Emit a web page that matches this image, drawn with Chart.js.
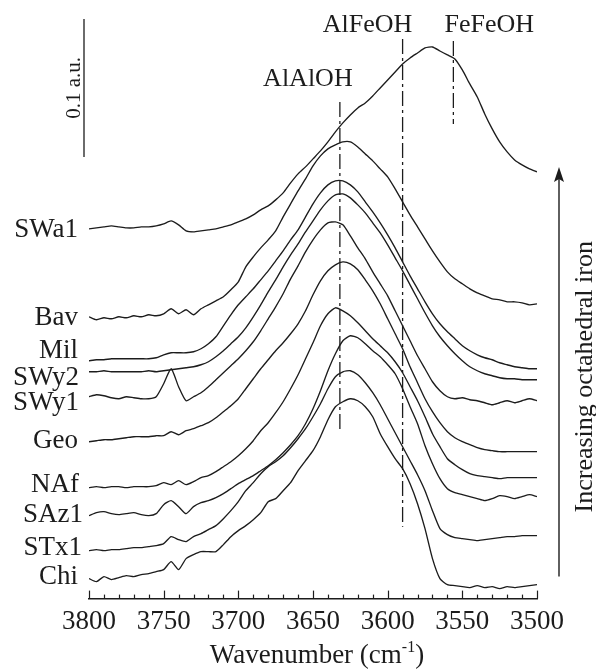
<!DOCTYPE html>
<html><head><meta charset="utf-8">
<script src="https://cdn.jsdelivr.net/npm/chart.js@4.4.1/dist/chart.umd.min.js"></script>
<style>html,body{margin:0;padding:0;background:#fff;}canvas{display:block;}</style>
</head><body>
<canvas id="c" width="596" height="672"></canvas>
<script>
// ---------- DATA (y = stacked absorbance, arbitrary offset units, 138 units = 0.1 a.u.) ----------
const wavenumbers = [3800,3795,3790,3785,3780,3775,3770,3765,3760,3755,3750,3745,3740,3735,3730,3725,3720,3715,3710,3705,3700,3695,3690,3685,3680,3675,3670,3665,3660,3655,3650,3645,3640,3635,3630,3625,3620,3615,3610,3605,3600,3595,3590,3585,3580,3575,3570,3565,3560,3555,3550,3545,3540,3535,3530,3525,3520,3515,3510,3505,3500];
const sampleNames = ['SWa1','Bav','Mil','SWy2','SWy1','Geo','NAf','SAz1','STx1','Chi'];
const SWa1 = [370,371,372,373,372,371,371,372,372,373,375,378,374,368,367,368,369,370,372,374,377,380,384,389,393,399,406,416,425,432,440,448,457,467,476,484,491,496,503,511,519,527,535,541,546,551,552,548,544,540,529,515,502,485,470,457,447,439,434,430,427];
const Bav  = [282,279,281,280,282,281,283,282,284,283,285,290,285,289,284,290,294,298,302,309,317,332,342,351,359,368,382,395,408,420,433,443,450,454,457,457,452,445,438,430,422,410,397,384,372,360,348,337,327,320,315,310,306,303,300,299,297,297,296,294,295];
const Mil  = [238,239,239,240,240,240,240,240,240,241,244,246,246,246,247,250,255,262,273,284,294,302,310,319,328,338,348,359,369,382,395,406,414,418,418,414,407,397,387,376,364,351,337,323,310,297,285,275,267,260,253,248,244,241,239,236,234,232,231,230,230];
const SWy2 = [227,227,228,227,227,227,227,227,228,227,228,229,230,231,232,234,237,242,248,255,262,271,282,294,307,319,332,344,355,367,378,389,398,404,405,401,394,386,376,366,354,341,328,314,300,286,273,262,253,245,238,232,228,225,223,221,220,220,219,219,219];
const SWy1 = [202,204,203,201,200,202,201,200,200,202,215,230,212,198,202,206,212,219,226,233,240,248,257,268,280,292,305,320,333,347,359,369,376,377,374,363,351,340,327,315,303,288,273,258,243,230,217,208,202,200,201,199,198,196,194,196,198,196,198,200,198];
const Geo  = [157,158,159,159,160,161,162,162,162,163,163,167,164,168,170,173,176,181,187,193,200,210,220,230,239,248,256,265,275,288,304,318,328,334,337,335,329,319,308,295,280,265,250,232,216,200,187,176,167,161,157,154,151,149,148,147,147,147,147,147,147];
const NAf  = [111,112,111,112,112,111,112,112,112,113,116,114,118,114,117,121,123,127,132,137,143,150,158,168,176,186,197,210,224,240,256,273,285,291,288,283,276,268,260,253,246,237,226,212,198,182,165,152,140,134,129,125,123,122,121,120,121,121,121,121,121];
const SAz1 = [83,86,87,85,84,85,86,84,83,85,94,98,92,85,92,96,98,101,105,110,115,119,123,128,133,139,146,154,163,175,190,208,228,245,258,263,261,255,248,242,234,225,210,192,175,153,135,120,110,106,104,102,100,98,100,103,102,100,102,104,102];
const STx1 = [48,49,48,49,49,50,51,51,52,53,55,62,59,57,62,65,69,73,80,88,97,108,116,125,132,137,143,151,160,170,182,195,210,222,227,228,224,216,206,194,180,166,152,138,124,108,88,70,64,61,60,59,58,59,60,61,62,62,63,63,63];
const Chi  = [20,17,22,19,21,23,22,24,25,27,29,37,29,40,44,47,47,47,54,62,68,73,79,86,97,100,108,116,128,138,148,162,179,192,197,200,198,192,182,165,152,140,130,115,95,70,40,20,14,13,12,11,13,11,12,10,12,11,12,13,14];
const spectra = [SWa1, Bav, Mil, SWy2, SWy1, Geo, NAf, SAz1, STx1, Chi];

const xTickValues = [3800,3750,3700,3650,3600,3550,3500];
const bandNames = ['AlAlOH','AlFeOH','FeFeOH'];
const bandPositions = [3632, 3590, 3556];
const bandTop = [497, 560, 558];
const bandBottom = [168, 72, 475];

const scaleBarLabel = '0.1 a.u.';
const scaleBarTop = 580;
const scaleBarSpan = 138;
const arrowLabel = 'Increasing octahedral iron';
const arrowFrom = 22, arrowTo = 432;
const xTitleParts = ['Wavenumber (cm', '-1', ')'];

// ---------- STYLE / LAYOUT ----------
const FONT = "'Liberation Serif','Times New Roman','DejaVu Serif',serif";
const INK = '#1c1c1c';
const labelDy = [1, 1, -10, 6, 6, -1, -3, -1, -3, -2];
const labelDx = [0, 0, 0, 1, 1, 0, 1, 5, 4, 0];
const bandLabelDx = [-32, -35, 36];
const bandLabelDy = [-16, -7, -9];

Chart.defaults.font.family = FONT;

const datasets = spectra.map((vals, i) => ({
  label: sampleNames[i],
  data: vals.map((v, k) => ({x: wavenumbers[k], y: v})),
  borderColor: INK, borderWidth: 1.35, pointRadius: 0, tension: 0.2,
  borderJoinStyle: 'round', fill: false
}));
bandNames.forEach((n, i) => {
  datasets.push({
    label: n,
    data: [{x: bandPositions[i], y: bandTop[i]}, {x: bandPositions[i], y: bandBottom[i]}],
    borderColor: INK, borderWidth: 1.3, pointRadius: 0, borderDash: [15, 4, 3, 4], fill: false
  });
});

const decor = {
  id: 'decor',
  afterDraw(chart) {
    const {ctx, chartArea: a, scales: {x, y}} = chart;
    ctx.save();
    ctx.strokeStyle = INK; ctx.fillStyle = INK;
    // inward ticks
    ctx.lineWidth = 1.2;
    for (let v = 3500; v <= 3800; v += 10) {
      const px = Math.round(x.getPixelForValue(v)) + 0.5;
      const len = (v % 50 === 0) ? 8 : 4;
      ctx.beginPath(); ctx.moveTo(px, a.bottom); ctx.lineTo(px, a.bottom - len); ctx.stroke();
    }
    // sample labels
    ctx.font = `27px ${FONT}`;
    ctx.textAlign = 'right'; ctx.textBaseline = 'middle';
    sampleNames.forEach((n, i) => {
      ctx.fillText(n, a.left - 11 + labelDx[i], y.getPixelForValue(spectra[i][0]) + labelDy[i]);
    });
    // band labels
    ctx.font = `26px ${FONT}`;
    ctx.textAlign = 'center'; ctx.textBaseline = 'alphabetic';
    bandNames.forEach((n, i) => {
      ctx.fillText(n, x.getPixelForValue(bandPositions[i]) + bandLabelDx[i], y.getPixelForValue(bandTop[i]) + bandLabelDy[i]);
    });
    // scale bar
    const sbx = a.left - 5;
    const sTop = y.getPixelForValue(scaleBarTop), sBot = y.getPixelForValue(scaleBarTop - scaleBarSpan);
    ctx.lineWidth = 1.3;
    ctx.beginPath(); ctx.moveTo(sbx, sTop); ctx.lineTo(sbx, sBot); ctx.stroke();
    ctx.save();
    ctx.translate(sbx - 4, (sTop + sBot) / 2);
    ctx.rotate(-Math.PI / 2);
    ctx.font = `21px ${FONT}`; ctx.textAlign = 'center'; ctx.textBaseline = 'alphabetic';
    ctx.fillText(scaleBarLabel, 0, 0);
    ctx.restore();
    // arrow
    const ax = a.right + 22;
    const aBot = y.getPixelForValue(arrowFrom), aTop = y.getPixelForValue(arrowTo);
    ctx.lineWidth = 1.4;
    ctx.beginPath(); ctx.moveTo(ax, aBot); ctx.lineTo(ax, aTop + 8); ctx.stroke();
    ctx.beginPath(); ctx.moveTo(ax, aTop); ctx.lineTo(ax - 5, aTop + 15); ctx.lineTo(ax, aTop + 12); ctx.lineTo(ax + 5, aTop + 15); ctx.closePath(); ctx.fill();
    ctx.save();
    ctx.translate(ax + 33, (aBot + aTop) / 2 + 5);
    ctx.rotate(-Math.PI / 2);
    ctx.font = `26px ${FONT}`; ctx.textAlign = 'center'; ctx.textBaseline = 'alphabetic';
    ctx.fillText(arrowLabel, 0, 0);
    ctx.restore();
    // x-axis title with superscript
    const cx = (a.left + a.right) / 2 + 4;
    const by = a.bottom + 64;
    ctx.font = `27px ${FONT}`;
    const w0 = ctx.measureText(xTitleParts[0]).width;
    const w2 = ctx.measureText(xTitleParts[2]).width;
    ctx.font = `16px ${FONT}`;
    const w1 = ctx.measureText(xTitleParts[1]).width;
    let sx = cx - (w0 + w1 + w2) / 2;
    ctx.textAlign = 'left';
    ctx.font = `27px ${FONT}`; ctx.fillText(xTitleParts[0], sx, by); sx += w0;
    ctx.font = `16px ${FONT}`; ctx.fillText(xTitleParts[1], sx, by - 11); sx += w1;
    ctx.font = `27px ${FONT}`; ctx.fillText(xTitleParts[2], sx, by);
    ctx.restore();
  }
};

new Chart(document.getElementById('c').getContext('2d'), {
  type: 'line',
  data: {datasets},
  options: {
    responsive: false, animation: false, devicePixelRatio: 1,
    layout: {padding: {left: 89, right: 59, top: 9, bottom: 27}},
    plugins: {legend: {display: false}, tooltip: {enabled: false}},
    scales: {
      x: {
        type: 'linear', reverse: true, min: 3500, max: 3800,
        grid: {display: false, drawTicks: false},
        border: {display: true, color: INK, width: 1.5},
        afterBuildTicks: s => { s.ticks = xTickValues.map(v => ({value: v})); },
        ticks: {padding: 7, color: INK, font: {family: FONT, size: 27}, maxRotation: 0, autoSkip: false,
                callback: v => String(v)}
      },
      y: {display: false, min: 0, max: 590}
    }
  },
  plugins: [decor]
});
</script>
</body></html>
